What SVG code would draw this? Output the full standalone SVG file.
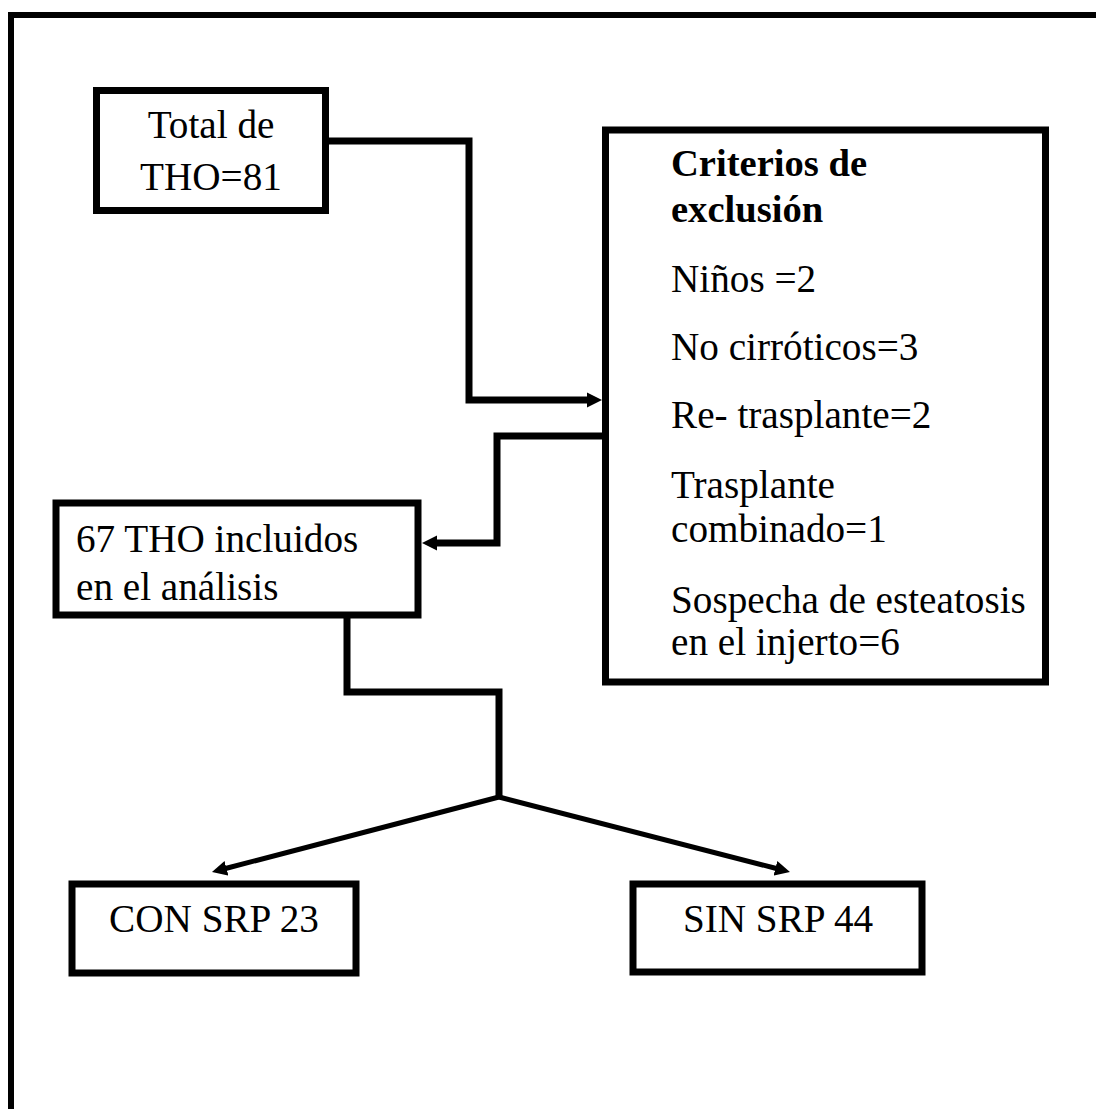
<svg xmlns="http://www.w3.org/2000/svg" width="1096" height="1109" viewBox="0 0 1096 1109" font-family="'Liberation Serif', 'Times New Roman', Times, serif">
<style>
.box{fill:#fff;stroke:#000;stroke-width:7}
text{font-family:'Liberation Serif','Times New Roman',Times,serif;font-size:39.2px;fill:#000}
.b{font-weight:bold;font-size:38.6px}
.c{text-anchor:middle}
.conn{fill:none;stroke:#000;stroke-width:7;stroke-linejoin:miter}
.diag{fill:none;stroke:#000;stroke-width:5}
.frame{fill:none;stroke:#000;stroke-width:6}
</style>
<defs>
<marker id="arr" viewBox="0 -8 16 16" refX="1" refY="0" markerWidth="16" markerHeight="16" markerUnits="userSpaceOnUse" orient="auto">
<path d="M0,-7.5 L15,0 L0,7.5 z" fill="#000"/>
</marker>
</defs>
<rect width="1096" height="1109" fill="#fff"/>
<path class="frame" d="M11,1109 V15 H1096"/>
<g id="connectors">
<path class="conn" d="M329,141 H469 V400 H588" marker-end="url(#arr)"/>
<path class="conn" d="M603,436 H497 V543 H436" marker-end="url(#arr)"/>
<path class="conn" d="M347,618 V692 H499 V797"/>
<path class="diag" d="M499,797 L225.5,868.5" marker-end="url(#arr)"/>
<path class="diag" d="M499,797 L776.4,868.5" marker-end="url(#arr)"/>
</g>
<g id="total">
<rect class="box" x="96.5" y="90.5" width="229" height="120"/>
<text class="c" x="211" y="138">Total de</text>
<text class="c" x="211" y="190">THO=81</text>
</g>
<g id="criterios">
<rect class="box" x="605.5" y="130" width="440" height="552"/>
<text class="b" x="671" y="176">Criterios de</text>
<text class="b" x="671" y="222">exclusión</text>
<text x="671" y="292">Niños =2</text>
<text x="671" y="360">No cirróticos=3</text>
<text x="671" y="428">Re- trasplante=2</text>
<text x="671" y="498">Trasplante</text>
<text x="671" y="542">combinado=1</text>
<text x="671" y="613">Sospecha de esteatosis</text>
<text x="671" y="655">en el injerto=6</text>
</g>
<g id="incluidos">
<rect class="box" x="56" y="503" width="362" height="112"/>
<text x="76" y="552">67 THO incluidos</text>
<text x="76" y="600">en el análisis</text>
</g>
<g id="con">
<rect class="box" x="72" y="884" width="284" height="89"/>
<text class="c" x="214" y="932">CON SRP 23</text>
</g>
<g id="sin">
<rect class="box" x="633" y="884" width="289" height="88"/>
<text class="c" x="778" y="932">SIN SRP 44</text>
</g>
</svg>
